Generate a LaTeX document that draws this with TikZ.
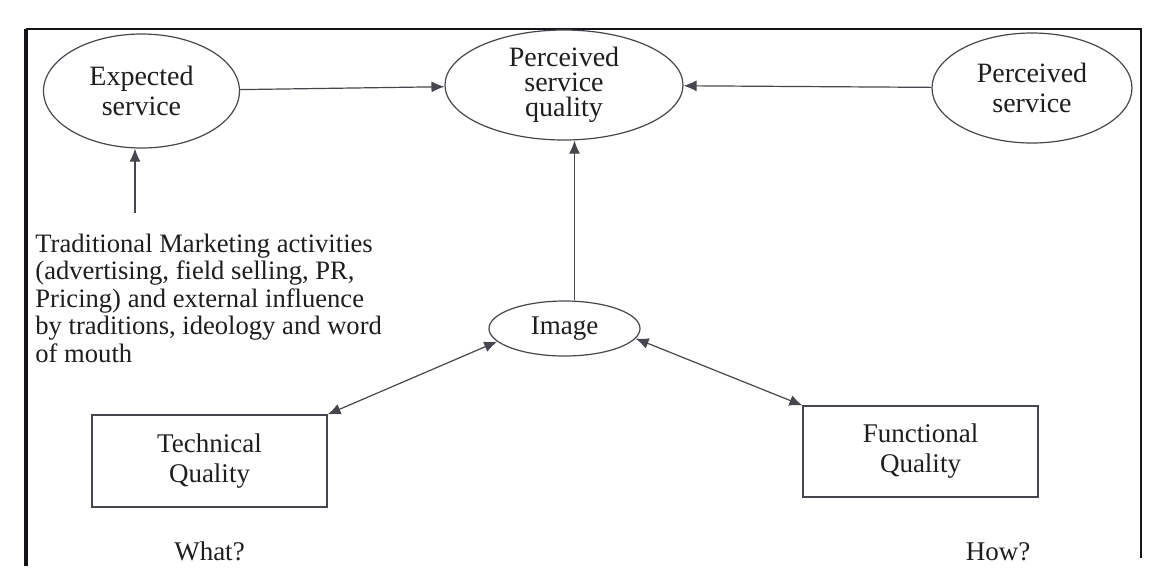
\documentclass[tikz,border=0pt]{standalone}
\usepackage{fontspec}
\setmainfont{Liberation Serif}
\usepackage{tikz}
\usetikzlibrary{shapes.geometric, arrows.meta, positioning}
\definecolor{LineGray} {RGB}{70, 70, 78}
\definecolor{FrameDark}{RGB}{20, 20, 25}
\definecolor{TextDark} {RGB}{30, 30, 30}

\begin{document}
\begin{tikzpicture}[
    x=0.5pt, y=-0.5pt,
    concept/.style={draw=LineGray, ellipse, line width=0.6pt, inner sep=0pt, align=center, font=\fontsize{14}{15}\selectfont, text=TextDark},
    quality/.style={draw=LineGray, rectangle, line width=0.6pt, inner sep=0pt, align=center, minimum width=117.5pt, minimum height=46pt, font=\fontsize{13.5}{15}\selectfont, text=TextDark},
    arrow/.style={-{Latex[length=6.5pt,width=5.5pt]}, LineGray, line width=0.6pt},
    twoway/.style={{Latex[length=6.5pt,width=5.5pt]}-{Latex[length=6.5pt,width=5.5pt]}, LineGray, line width=0.6pt},
    lbl/.style={font=\fontsize{13.5}{13.75}\selectfont, text=TextDark, inner sep=0pt}
]

    \useasboundingbox (0,0) rectangle (1164,570);
    \fill[white] (0,0) rectangle (1164,570);

    % Frame, open at the bottom
    \draw[FrameDark, line width=1.1pt] (26,29) -- (1141,29) -- (1141,558);
    \draw[FrameDark, line width=1.6pt] (26,566) -- (26,28.5);

    % Nodes
    \node[concept, minimum width=98pt, minimum height=57pt] (expected) at (141.5,91) {Expected\\service};
    \node[concept, minimum width=119pt, minimum height=55pt, font=\fontsize{14}{12.5}\selectfont] (psq) at (564,85) {Perceived\\service\\quality};
    \node[concept, minimum width=100pt, minimum height=55pt] (perceived) at (1032,88) {Perceived\\service};
    \node[concept, minimum width=75.5pt, minimum height=27.5pt, font=\fontsize{13.5}{15}\selectfont] (image) at (564.5,328.5) {Image};

    \node[quality] (technical) at (209.5,461) {Technical\\Quality};
    \node[quality, minimum height=45.5pt] (functional) at (920.5,451.5) {Functional\\Quality};

    \node[lbl, below=17pt of technical] (what) {What?};
    \node[lbl] (how) at (998,552) {How?};

    \node[lbl, align=left, anchor=base west, font=\fontsize{13.3}{13.75}\selectfont] (marketing) at (35,362)
        {Traditional Marketing activities\\(advertising, field selling, PR,\\Pricing) and external influence\\by traditions, ideology and word\\of mouth};
    \coordinate (mktop) at (135,213);

    % Edges
    \draw[arrow] (mktop) -- (mktop |- expected.south);
    \draw[arrow] (expected) -- (psq);
    \draw[arrow] (perceived) -- (psq);
    \draw[arrow] ([xshift=5pt]image.north) -- ([xshift=5pt]image.north |- psq.south);
    \draw[twoway] (image.191) -- (technical.north east);
    \draw[twoway] (image.352) -- (functional.north west);

\end{tikzpicture}
\end{document}
